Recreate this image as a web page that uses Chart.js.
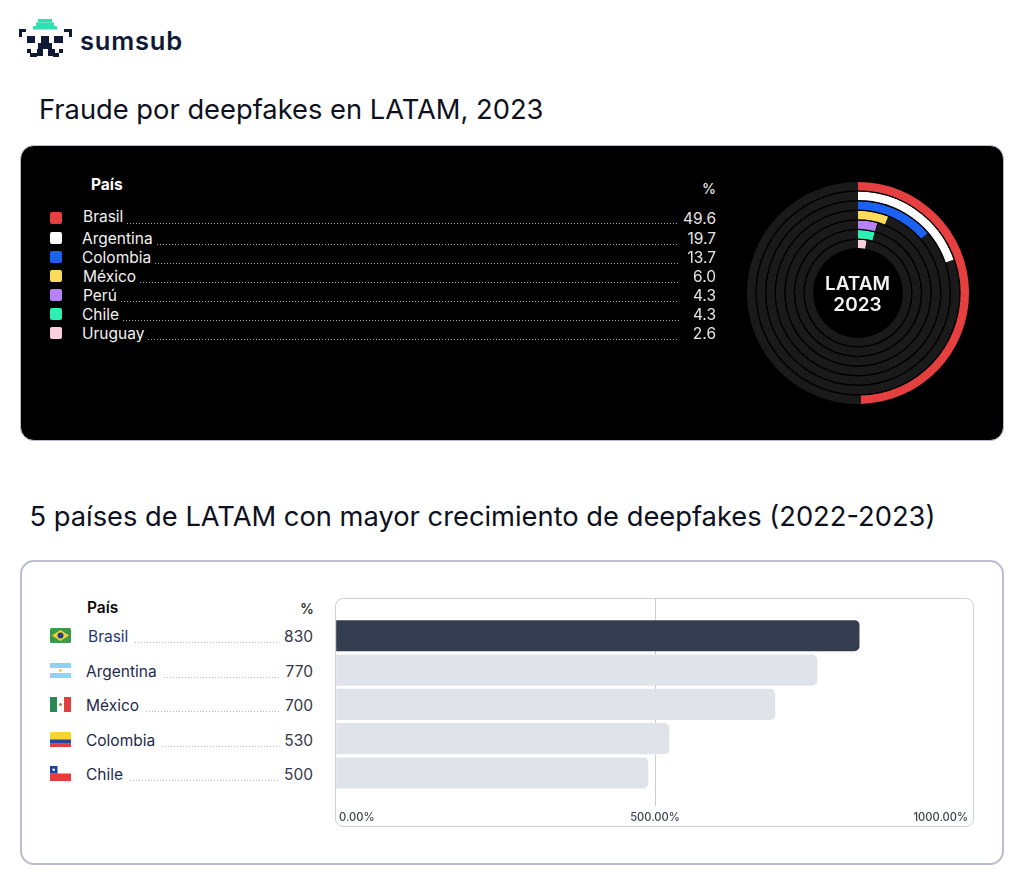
<!DOCTYPE html>
<html>
<head>
<meta charset="utf-8">
<title>Deepfakes LATAM</title>
<script src="https://cdn.jsdelivr.net/npm/chart.js@4"></script>
<style>
  html, body { margin: 0; padding: 0; background: #fff; }
  body { position: relative; width: 1024px; height: 885px; overflow: hidden; font-family: Inter, sans-serif; }
  .abs { position: absolute; white-space: nowrap; }
  .panel { position: absolute; box-sizing: border-box; border-radius: 14px; }
  #darkPanel { left: 20px; top: 145px; width: 984px; height: 296px; background: #000; border: 1.5px solid #b9bdd2; }
  #lightPanel { left: 20px; top: 560px; width: 984px; height: 305px; background: #fff; border: 2px solid #b8bdd2; }
  #plotBox { left: 335px; top: 598px; width: 639px; height: 229px; border: 1.5px solid #cfd1da; border-radius: 8px; }
  h1 { position: absolute; margin: 0; font-weight: 400; font-size: 27.3px; line-height: 32px; color: #0c1020; white-space: nowrap; }
  #brand { left: 80px; top: 24px; font-size: 25.5px; line-height: 34px; font-weight: 600; color: #0e1a38; letter-spacing: 0.8px; }
  #ringCanvas { position: absolute; left: 746.5px; top: 182px; }
  #barCanvas { position: absolute; left: 336px; top: 598px; }
  #ringLabel { position: absolute; left: 807px; top: 272.5px; width: 101px; text-align: center; color: #f2f2f2; font-size: 19px; line-height: 21px; font-weight: 600; }
  .dots { position: absolute; height: 1px; }
</style>
</head>
<body>

<svg class="abs" style="left:19px;top:18px" width="53" height="40" viewBox="0 0 53 40">
  <g fill="#2fe0b0">
    <rect x="19" y="1" width="14" height="3.5"/><rect x="17" y="4.5" width="18" height="3.5"/><rect x="14" y="8" width="24" height="3.5"/>
  </g>
  <g fill="#0e1a38">
    <rect x="0" y="11" width="7" height="3"/><rect x="0" y="11" width="3" height="8"/>
    <rect x="45" y="11" width="8" height="3"/><rect x="50" y="11" width="3" height="8"/>
    <rect x="8" y="18" width="8" height="7"/><rect x="22" y="18" width="8" height="7"/><rect x="35" y="18" width="9" height="7"/>
    <rect x="19" y="25" width="14" height="6"/>
    <rect x="18" y="31" width="6" height="7"/><rect x="29" y="31" width="7" height="7"/>
    <rect x="8" y="31" width="4" height="4"/><rect x="11" y="35" width="7" height="4"/>
    <rect x="40" y="31" width="4" height="4"/><rect x="34" y="35" width="6" height="4"/>
  </g>
</svg>
<div id="brand" class="abs">sumsub</div>

<h1 style="left:39px;top:94px">Fraude por deepfakes en LATAM, 2023</h1>
<div id="darkPanel" class="panel"></div>
<canvas id="ringCanvas" width="222" height="222"></canvas>
<div id="ringLabel">LATAM<br>2023</div>

<h1 style="left:29.5px;top:501px">5 países de LATAM con mayor crecimiento de deepfakes (2022-2023)</h1>
<div id="lightPanel" class="panel"></div>
<div id="plotBox" class="panel"></div>
<canvas id="barCanvas" width="638" height="231"></canvas>

<script>
// top chart: share of deepfake fraud
const fraudCountries = ['Brasil', 'Argentina', 'Colombia', 'México', 'Perú', 'Chile', 'Uruguay'];
const fraudShares = [49.6, 19.7, 13.7, 6.0, 4.3, 4.3, 2.6];
const fraudColors = ['#e5403f', '#ffffff', '#1c62f2', '#fddc5c', '#b583f5', '#2cf0b4', '#fbcfdd'];

// bottom chart: growth 2022-2023
const growthCountries = ['Brasil', 'Argentina', 'México', 'Colombia', 'Chile'];
const growthLabels = [830, 770, 700, 530, 500];   // what the table prints
const growthBars = [820, 754, 688, 522, 489];     // where the bars really end on the axis
const growthTicks = [0, 500, 1000];

function addText(text, x, y, size, color, weight, rightAlign) {
  const el = document.createElement('div');
  el.className = 'abs';
  el.textContent = text;
  el.style.top = (y - 9) + 'px';
  el.style.lineHeight = '20px';
  el.style.fontSize = size + 'px';
  el.style.color = color;
  el.style.fontWeight = weight;
  if (rightAlign) {
    el.style.right = (1024 - x) + 'px';
  } else {
    el.style.left = x + 'px';
  }
  document.body.appendChild(el);
  return el;
}

function addDots(x1, x2, y, color) {
  const el = document.createElement('div');
  el.className = 'dots';
  el.style.left = x1 + 'px';
  el.style.top = y + 'px';
  el.style.width = (x2 - x1) + 'px';
  el.style.backgroundImage = 'repeating-linear-gradient(90deg,' + color + ' 0 1px,transparent 1px 3px)';
  document.body.appendChild(el);
}

// dark table
addText('País', 91, 184, 15.5, '#fff', 700);
addText('%', 716, 188, 14, '#e6e6e6', 500, true);
fraudCountries.forEach((name, i) => {
  const first = i === 0;
  const y = first ? 216 : 238 + 19 * (i - 1);
  const el = addText(name, i === 0 || i === 3 || i === 4 ? 83 : 82, y, 15.5, '#f2f2f2', 400);
  addDots(el.offsetLeft + el.offsetWidth + 4, 679, y + (first ? 7 : 6), '#a8a8a8');
  addText(fraudShares[i].toFixed(1), 716, first ? 218 : y, 15.5, '#e4e4e4', 400, true);
  const box = document.createElement('div');
  box.className = 'abs';
  box.style.cssText += 'left:50px;width:12px;height:12px;border-radius:2px;top:' + ((first ? 218 : y) - 6) + 'px;background:' + fraudColors[i];
  document.body.appendChild(box);
});

// light table
const flags = {
  'Brasil': '<rect width="21" height="15" rx="1.5" fill="#3a9a45"/><path d="M10.5 2 19 7.5 10.5 13 2 7.5z" fill="#f3d03e"/><circle cx="10.5" cy="7.5" r="3" fill="#24407c"/>',
  'Argentina': '<rect width="21" height="15" rx="1.5" fill="#fff"/><rect width="21" height="5" fill="#8fd3f2"/><rect y="10" width="21" height="5" fill="#8fd3f2"/><circle cx="10.5" cy="7.5" r="1.4" fill="#f2c744"/>',
  'México': '<rect width="21" height="15" rx="1.5" fill="#fff"/><rect width="7" height="15" fill="#2a8a54"/><rect x="14" width="7" height="15" fill="#e0413f"/><circle cx="10.5" cy="7.5" r="1.6" fill="#a8825a"/>',
  'Colombia': '<rect width="21" height="15" rx="1.5" fill="#f9d431"/><rect y="7.5" width="21" height="3.8" fill="#2a45a0"/><rect y="11.2" width="21" height="3.8" fill="#e0413f"/>',
  'Chile': '<rect width="21" height="15" rx="1.5" fill="#fff"/><rect y="7.5" width="21" height="7.5" fill="#ea3b3b"/><rect width="7.5" height="7.5" fill="#1f3f9c"/><circle cx="3.7" cy="3.7" r="1.3" fill="#fff"/>'
};
addText('País', 87, 607, 15.5, '#0a0a0a', 600);
addText('%', 314, 608, 14, '#222', 500, true);
growthCountries.forEach((name, i) => {
  const y = 636 + 34.5 * i;
  const el = addText(name, i === 0 ? 88 : 86, y, 15.5, i === 0 ? '#27386e' : '#1e2a4a', 400);
  addDots(el.offsetLeft + el.offsetWidth + 7, 279, y + 6, '#b4b8c2');
  addText(String(growthLabels[i]), 313, y, 15.5, '#333845', 400, true);
  const flag = document.createElement('div');
  flag.className = 'abs';
  flag.style.left = '50px';
  flag.style.top = (y - 8) + 'px';
  flag.innerHTML = '<svg width="21" height="15" viewBox="0 0 21 15" style="display:block">' + flags[name] + '</svg>';
  document.body.appendChild(flag);
});

// one ring per country, outermost first, with a thin black ring between each
const ringSets = [];
fraudCountries.forEach((name, i) => {
  ringSets.push({
    label: name,
    data: [fraudShares[i], 100 - fraudShares[i]],
    backgroundColor: [fraudColors[i], '#1a1a1a'],
    borderWidth: 0,
    weight: 8
  });
  if (i < fraudCountries.length - 1) {
    ringSets.push({ data: [100], backgroundColor: ['#000'], borderWidth: 0, weight: 1.2 });
  }
});

new Chart(document.getElementById('ringCanvas'), {
  type: 'doughnut',
  data: { labels: ['valor', 'resto'], datasets: ringSets },
  options: {
    responsive: false,
    animation: false,
    cutout: '40.5%',
    layout: { padding: 0 },
    plugins: { legend: { display: false }, tooltip: { enabled: false } }
  }
});

new Chart(document.getElementById('barCanvas'), {
  type: 'bar',
  data: {
    datasets: [{
      data: growthBars.map((v, i) => ({ x: v, y: i })),
      backgroundColor: growthBars.map((v, i) => i === 0 ? '#343e50' : '#e0e4ea'),
      barThickness: 30.5,
      borderRadius: 5,
      borderSkipped: 'left'
    }]
  },
  options: {
    indexAxis: 'y',
    responsive: false,
    animation: false,
    layout: { padding: 0 },
    scales: {
      x: {
        type: 'linear',
        min: growthTicks[0],
        max: growthTicks[2],
        afterBuildTicks: scale => { scale.ticks = growthTicks.map(v => ({ value: v })); },
        afterFit: scale => { scale.paddingLeft = 0; scale.paddingRight = 0; },
        border: { display: false },
        grid: {
          drawTicks: false,
          lineWidth: 1,
          color: ctx => ctx.tick && ctx.tick.value === 500 ? '#c9ccd3' : 'rgba(0,0,0,0)'
        },
        ticks: {
          align: 'inner',
          maxRotation: 0,
          padding: 5,
          color: '#3d4350',
          font: { family: 'Inter', size: 11.2, weight: '500' },
          callback: v => v === 0 ? ' 0.00%' : v === 1000 ? '1000.00%  ' : v.toFixed(2) + '%'
        }
      },
      y: { type: 'linear', display: false, reverse: true, offset: false, min: -1.1, max: 4.95 }
    },
    plugins: { legend: { display: false }, tooltip: { enabled: false } }
  }
});
</script>
</body>
</html>
